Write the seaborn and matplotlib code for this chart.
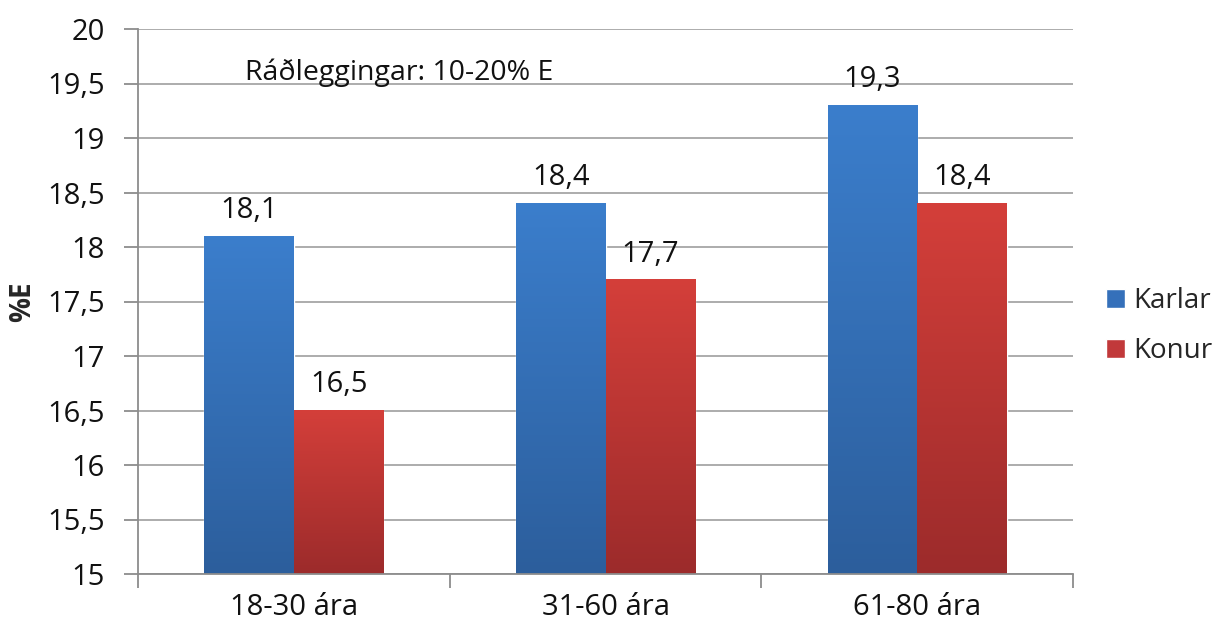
import numpy as np
import pandas as pd
import matplotlib
matplotlib.use("Agg")
import matplotlib.pyplot as plt
import seaborn as sns
from matplotlib.ticker import FuncFormatter, FixedLocator
from matplotlib.colors import LinearSegmentedColormap

categories = ["18-30 ára", "31-60 ára", "61-80 ára"]
karlar = [18.1, 18.4, 19.3]
konur = [16.5, 17.7, 18.4]
series_names = ["Karlar", "Konur"]
y_ticks = [15, 15.5, 16, 16.5, 17, 17.5, 18, 18.5, 19, 19.5, 20]
annotation_text = "Ráðleggingar: 10-20% E"
y_label = "%E"

df = pd.DataFrame({
    "cat": categories * 2,
    "val": karlar + konur,
    "series": [series_names[0]] * 3 + [series_names[1]] * 3,
})

sns.set_theme(style="white")
plt.rcParams["font.family"] = ["Open Sans", "DejaVu Sans"]
FS = 21

fig = plt.figure(figsize=(12.16, 6.28), dpi=100)
ax = fig.add_axes([138 / 1216, 54 / 628, (1073 - 138) / 1216, (574 - 29) / 628])

palette = {"Karlar": "#3570BA", "Konur": "#C1393A"}
sns.barplot(data=df, x="cat", y="val", hue="series", palette=palette,
            width=0.575, ax=ax, saturation=1, legend=True, zorder=3)

ax.set_ylim(15, 20)
ax.set_xlim(-0.5, 2.5)

grad = {
    "Karlar": ("#3B7ECC", "#2C5E9C"),
    "Konur": ("#D43F3A", "#9C2B2B"),
}
bars = [p for p in ax.patches if p.get_height() > 0 and p.get_width() < 0.5]
n = len(categories)
for idx, p in enumerate(bars[: 2 * n]):
    s = series_names[idx // n]
    top, bot = grad[s]
    cmap = LinearSegmentedColormap.from_list("g", [bot, top])
    x0 = p.get_x()
    x1 = x0 + p.get_width()
    y0 = 15
    y1 = p.get_y() + p.get_height()
    img = np.linspace(0, 1, 256).reshape(-1, 1)
    ax.imshow(img, extent=[x0, x1, y0, y1], origin="lower", aspect="auto",
              cmap=cmap, zorder=4)
    ax.annotate(f"{y1:.1f}".replace(".", ","), (x0 + p.get_width() / 2, y1),
                xytext=(0, 8), textcoords="offset points", ha="center",
                va="bottom", fontsize=FS, color="#111111", zorder=5)

ax.set_xlim(-0.5, 2.5)
ax.set_ylim(15, 20)

ax.yaxis.set_major_locator(FixedLocator(y_ticks))
ax.yaxis.set_major_formatter(FuncFormatter(
    lambda v, pos: (f"{v:g}").replace(".", ",")))
ax.grid(axis="y", color="#A6A6A6", linewidth=1.3, zorder=0)
ax.grid(axis="x", visible=False)

ax.set_xticks(range(len(categories)))
ax.set_xticklabels(categories)
ax.set_xticks([-0.5, 0.5, 1.5, 2.5], minor=True)
ax.tick_params(axis="x", which="major", length=0, pad=14, labelsize=FS,
               labelcolor="#111111")
ax.tick_params(axis="x", which="minor", length=10, width=1.3, color="#8C8C8C",
               direction="out", bottom=True)
ax.tick_params(axis="y", which="major", length=10, width=1.3, color="#8C8C8C",
               direction="out", left=True, pad=14, labelsize=FS,
               labelcolor="#111111")

for side in ["top", "right"]:
    ax.spines[side].set_visible(False)
for side in ["left", "bottom"]:
    ax.spines[side].set_color("#8C8C8C")
    ax.spines[side].set_linewidth(1.3)
    ax.spines[side].set_zorder(6)

ax.set_xlabel("")
ax.set_ylabel(y_label, fontsize=FS - 1, fontweight="bold")
ax.yaxis.set_label_coords((37 - 138) / 935, 0.5)

ax.text(-0.157, 19.6, annotation_text, fontsize=20.5, color="#111111",
        ha="left", va="center", zorder=5)

handles, labels = ax.get_legend_handles_labels()
leg = ax.legend(handles, labels, loc="center left",
                bbox_to_anchor=((1106 - 138) / 935, 0.455), frameon=False,
                fontsize=20, borderpad=0, borderaxespad=0,
                handlelength=0.68, handleheight=0.68, handletextpad=0.3,
                labelspacing=0.8)

fig.savefig("out.png", dpi=100, facecolor="white")
